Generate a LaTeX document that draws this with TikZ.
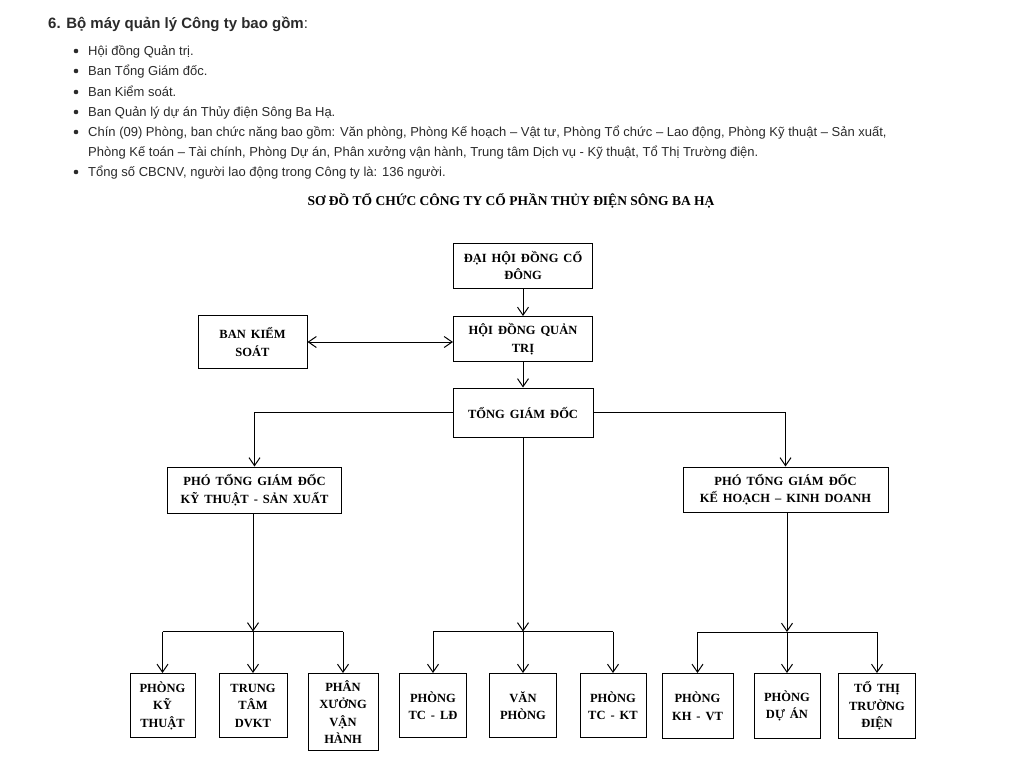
\documentclass[tikz,border=0pt]{standalone}
\usepackage{fontspec}
\setmainfont{Liberation Serif}
\newfontfamily\webfont{Liberation Sans}
\usepackage{tikz}
\usetikzlibrary{arrows.meta,positioning}

\definecolor{webtext}{HTML}{2A2A2A}
\newcommand\boxfont{\bfseries\fontsize{12.5}{17.5}\selectfont\spaceskip=5pt plus 1pt\relax}

\tikzset{
  box/.style={draw, line width=1pt, inner sep=0pt, align=center, font=\boxfont},
  line/.style={line width=1pt},
  arr/.style={line width=1pt, -{Straight Barb[length=8pt,width=11pt]}},
  webline/.style={anchor=base west, inner sep=0pt, text=webtext,
                  font=\webfont\fontsize{13}{20}\selectfont},
}

\begin{document}
\begin{tikzpicture}[x=1pt,y=-1pt]
\useasboundingbox (0,0) rectangle (1032,780);

% text above the chart
\node[webline, font=\webfont\bfseries\fontsize{15}{20}\selectfont] (head) at (48,28)
  {6. Bộ máy quản lý Công ty bao gồm\textmd{:}};
\node[webline] (li1) at (88,55) {Hội đồng Quản trị.};
\node[webline] (li2) at (88,75) {Ban Tổng Giám đốc.};
\node[webline] (li3) at (88,96) {Ban Kiểm soát.};
\node[webline] (li4) at (88,116) {Ban Quản lý dự án Thủy điện Sông Ba Hạ.};
\node[webline] (li5) at (88,136) {Chín (09) Phòng, ban chức năng bao gồm: Văn phòng, Phòng Kế hoạch – Vật tư, Phòng Tổ chức – Lao động, Phòng Kỹ thuật – Sản xuất,};
\node[webline] (li5b) at (88,156) {Phòng Kế toán – Tài chính, Phòng Dự án, Phân xưởng vận hành, Trung tâm Dịch vụ - Kỹ thuật, Tổ Thị Trường điện.};
\node[webline] (li6) at (88,176) {Tổng số CBCNV, người lao động trong Công ty là: 136 người.};
\foreach \y in {51,71,92,112,132,172}
  \fill[webtext] (76,\y) circle (2.3);

\node[anchor=base, inner sep=0pt, font=\bfseries\fontsize{13.5}{15}\selectfont] (title) at (511,205)
  {SƠ ĐỒ TỔ CHỨC CÔNG TY CỔ PHẦN THỦY ĐIỆN SÔNG BA HẠ};

% top of the chart
\node[box, minimum width=139, minimum height=45] (dhdcd) at (523,265.5) {ĐẠI HỘI ĐỒNG CỔ\\ĐÔNG};
\node[box, minimum width=139, minimum height=45] (hdqt) at (523,339) {HỘI ĐỒNG QUẢN\\TRỊ};
\node[box, minimum width=109, minimum height=53] (bks) at (252.5,342) {BAN KIỂM\\SOÁT};
\node[box, minimum width=140, minimum height=49] (tgd) at (523,412.5) {TỔNG GIÁM ĐỐC};

\node[box, minimum width=174, minimum height=46] (pkt1) at (254.5,490) {PHÓ TỔNG GIÁM ĐỐC\\KỸ THUẬT - SẢN XUẤT};
\node[box, minimum width=205, minimum height=45] (pkh1) at (785.5,489.5) {PHÓ TỔNG GIÁM ĐỐC\\KẾ HOẠCH – KINH DOANH};

% bottom row
\node[box, minimum width=65, minimum height=64] (pkt) at (162.5,705.5) {PHÒNG\\KỸ\\THUẬT};
\node[box, minimum width=68, minimum height=64] (dvkt) at (253,705.5) {TRUNG\\TÂM\\DVKT};
\node[box, minimum width=70, minimum height=77] (pxvh) at (343,712) {PHÂN\\XƯỞNG\\VẬN\\HÀNH};
\node[box, minimum width=67, minimum height=64] (tcld) at (433,705.5) {PHÒNG\\TC - LĐ};
\node[box, minimum width=67, minimum height=64] (vp) at (523,705.5) {VĂN\\PHÒNG};
\node[box, minimum width=66, minimum height=64] (tckt) at (613,705.5) {PHÒNG\\TC - KT};
\node[box, minimum width=71, minimum height=65] (khvt) at (697.5,706) {PHÒNG\\KH - VT};
\node[box, minimum width=66, minimum height=65] (duan) at (787,706) {PHÒNG\\DỰ ÁN};
\node[box, minimum width=77, minimum height=65] (ttd) at (877,706) {TỔ THỊ\\TRƯỜNG\\ĐIỆN};

% branch points
\coordinate (jl) at (253,631.5);
\coordinate (jm) at (523,631.5);
\coordinate (jr) at (787,632);

% connectors
\draw[arr] (dhdcd) -- (hdqt);
\draw[arr] (hdqt) -- (tgd);
\draw[line, {Straight Barb[length=8pt,width=11pt]}-{Straight Barb[length=8pt,width=11pt]}]
  (bks.east) -- (bks.east -| hdqt.west);
\draw[arr] (tgd.west) -| (pkt1.north);
\draw[arr] (tgd.east) -| (pkh1.north);

\draw[arr] (pkt1.south -| jl) -- (jl);
\draw[line] (pkt.north |- jl) -- (pxvh.north |- jl);
\draw[arr] (pkt.north |- jl) -- (pkt.north);
\draw[arr] (dvkt.north |- jl) -- (dvkt.north);
\draw[arr] (pxvh.north |- jl) -- (pxvh.north);

\draw[arr] (tgd.south) -- (jm);
\draw[line] (tcld.north |- jm) -- (tckt.north |- jm);
\draw[arr] (tcld.north |- jm) -- (tcld.north);
\draw[arr] (vp.north |- jm) -- (vp.north);
\draw[arr] (tckt.north |- jm) -- (tckt.north);

\draw[arr] (pkh1.south -| jr) -- (jr);
\draw[line] (khvt.north |- jr) -- (ttd.north |- jr);
\draw[arr] (khvt.north |- jr) -- (khvt.north);
\draw[arr] (duan.north |- jr) -- (duan.north);
\draw[arr] (ttd.north |- jr) -- (ttd.north);
\end{tikzpicture}
\end{document}
